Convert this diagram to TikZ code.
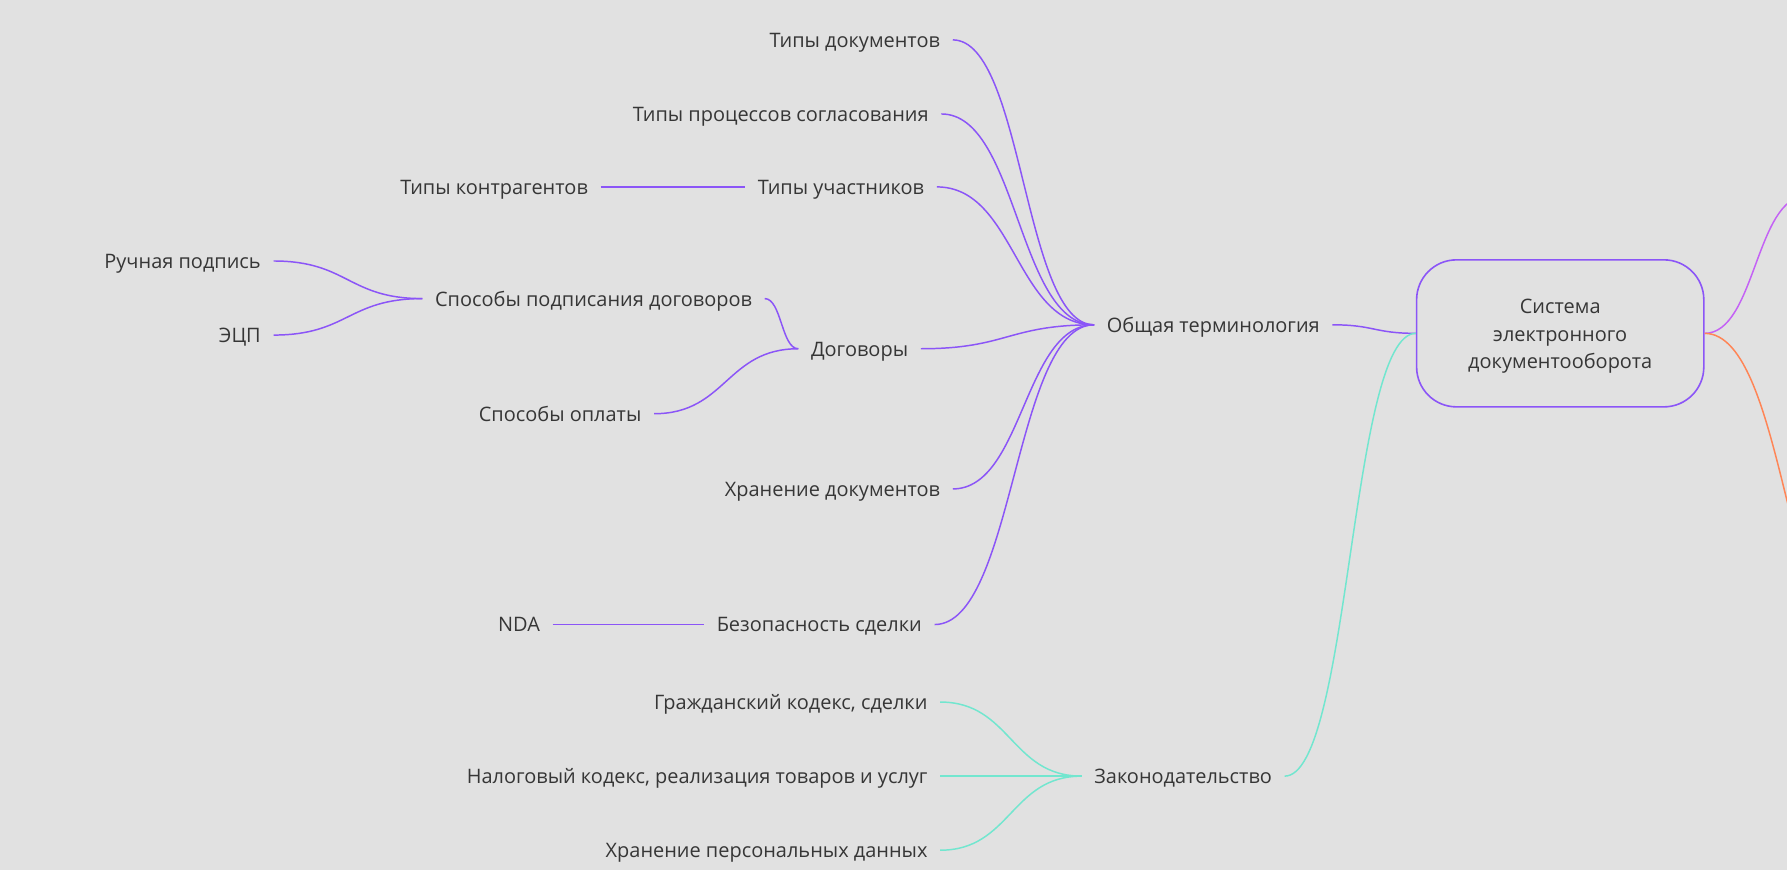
\documentclass[tikz,border=0pt]{standalone}
\usepackage{fontspec}
\setmainfont{Open Sans}
\usetikzlibrary{calc}
\definecolor{bgc}{HTML}{E1E1E1}
\definecolor{txt}{HTML}{363636}
\definecolor{vio}{HTML}{8B55F7}
\definecolor{teal}{HTML}{72E6CF}
\definecolor{orng}{HTML}{FF8556}
\definecolor{mag}{HTML}{C462F5}
\tikzset{
  x=1pt, y=-1pt,
  lbl/.style={text=txt, font=\fontsize{17.5}{24.5}\selectfont, inner xsep=11pt, inner ysep=0pt,
    text height=13pt, text depth=0pt},
  root/.style={draw=vio, line width=1.4pt, rounded corners=35pt, minimum width=252pt, minimum height=129pt,
    inner sep=0pt},
  roottext/.style={text=txt, font=\fontsize{17.5}{24.5}\selectfont, align=center, inner sep=0pt},
  link/.style={line width=1.3pt},
}
\newcommand{\mmlink}[3]{%
  \draw[link,#1] let \p1=(#2), \p2=(#3), \n1={(\x2-\x1)/2} in
    (\p1) .. controls +(\n1,0pt) and +(-\n1,0pt) .. (\p2);}
\begin{document}
\begin{tikzpicture}
\fill[bgc] (0,0) rectangle (1568,763.4);
\useasboundingbox (0,0) rectangle (1568,763.4);

% nodes
\node[lbl, anchor=east] (td) at (836,35) {Типы документов};
\node[lbl, anchor=east] (tp) at (826,100) {Типы процессов согласования};
\node[lbl, anchor=east] (tu) at (822,164) {Типы участников};
\node[lbl, anchor=east] (tk) at (527,164) {Типы контрагентов};
\node[lbl, anchor=east] (sp) at (671,262) {Способы подписания договоров};
\node[lbl, anchor=east] (rp) at (240,229) {Ручная подпись};
\node[lbl, anchor=east] (ecp) at (240,294) {ЭЦП};
\node[lbl, anchor=east] (dg) at (808,306) {Договоры};
\node[lbl, anchor=east] (so) at (574,363) {Способы оплаты};
\node[lbl, anchor=east] (hd) at (836,429) {Хранение документов};
\node[lbl, anchor=east] (bs) at (820,548) {Безопасность сделки};
\node[lbl, anchor=east] (nda) at (485,548) {NDA};
\node[lbl, anchor=west] (ot) at (960,285) {Общая терминология};
\node[root] (box) at (1369,292.5) {};
\node[roottext] (boxtext) at (1369,295) {Система\\электронного\\документооборота};
\node[lbl, anchor=east] (gk) at (825,616) {Гражданский кодекс, сделки};
\node[lbl, anchor=east] (nk) at (825,681) {Налоговый кодекс, реализация товаров и услуг};
\node[lbl, anchor=east] (hp) at (825,746) {Хранение персональных данных};
\node[lbl, anchor=west] (zk) at (949,681) {Законодательство};
\coordinate (outA) at (1585,172);
\coordinate (outB) at (1640,585);

% connectors
\mmlink{vio}{td.east}{ot.west}
\mmlink{vio}{tp.east}{ot.west}
\mmlink{vio}{tu.east}{ot.west}
\mmlink{vio}{tk.east}{tu.west}
\mmlink{vio}{rp.east}{sp.west}
\mmlink{vio}{ecp.east}{sp.west}
\mmlink{vio}{sp.east}{dg.west}
\mmlink{vio}{so.east}{dg.west}
\mmlink{vio}{dg.east}{ot.west}
\mmlink{vio}{hd.east}{ot.west}
\mmlink{vio}{bs.east}{ot.west}
\mmlink{vio}{nda.east}{bs.west}
\mmlink{vio}{ot.east}{box.west}
\mmlink{teal}{gk.east}{zk.west}
\mmlink{teal}{nk.east}{zk.west}
\mmlink{teal}{hp.east}{zk.west}
\mmlink{teal}{zk.east}{box.west}
\mmlink{mag}{box.east}{outA}
\mmlink{orng}{box.east}{outB}
\end{tikzpicture}
\end{document}
